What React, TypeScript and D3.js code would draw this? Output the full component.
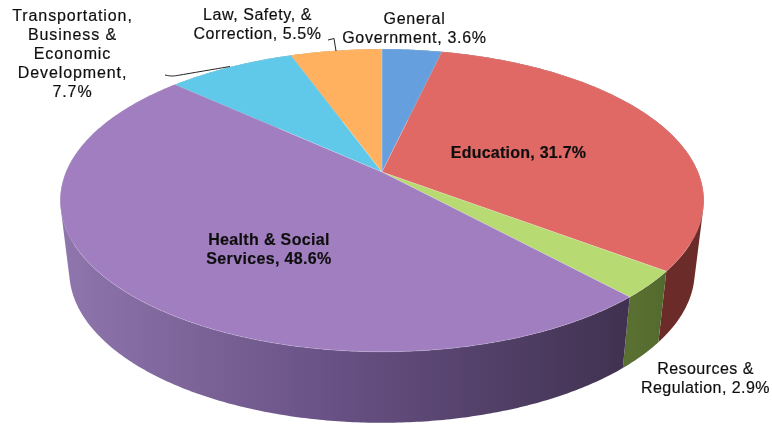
import React from "react";
import * as d3 from "d3";

const categories = ["General Government", "Education", "Resources & Regulation", "Health & Social Services", "Transportation, Business & Economic Development", "Law, Safety, & Correction"];
const shares = [3.6, 31.7, 2.9, 48.6, 7.7, 5.5];
const topColors = ["#659fde", "#e06865", "#b8da72", "#a07ec0", "#60c8e8", "#ffb15f"];
const sideStops = [
  ["#3f6a9c", "#3f6a9c"],
  ["#6f2d2b", "#6b2b29"],
  ["#5a7032", "#536a2e"],
  ["#8f76ad", "#403150"],
  ["#3a8aa5", "#3a8aa5"],
  ["#b07a3a", "#b07a3a"],
];
const labelLines = [
  ["General", "Government, 3.6%"],
  ["Education, 31.7%"],
  ["Resources &", "Regulation, 2.9%"],
  ["Health & Social", "Services, 48.6%"],
  ["Transportation,", "Business &", "Economic", "Development,", "7.7%"],
  ["Law, Safety, &", "Correction, 5.5%"],
];
const labelBold = [false, true, false, true, false, false];
const labelX = [414.5, 518.5, 705.5, 269, 72.5, 257.5];
const labelY = [24, 158, 374, 245, 20.5, 20];
const labelTrack = [0.7, 0.25, 0.45, 0.35, 0.9, 0.55];

const W = 772, H = 426;
const cx = 382, cy = 172, a = 316, b = 146, k = 0.188, depth = 71, shrink = 0.972;

type P = [number, number];
const project = (t: number): P => {
  const x = Math.sin(t), y = -Math.cos(t), w = 1 - k * y;
  return [cx + (a * x) / w, cy + (b * y) / w];
};
const lower = (p: P): P => [cx + (p[0] - cx) * shrink, p[1] + depth];
const line = d3.line();
const rim = (s: number, e: number) => {
  const n = Math.max(2, Math.ceil((e - s) / 0.01));
  return d3.range(n + 1).map((i) => project(s + ((e - s) * i) / n));
};
// Wall of one slice as consistently wound quads, so the folded silhouette stays filled.
const wall = (pts: P[]) =>
  d3.pairs(pts).map(([p, q]) => {
    const quad: P[] = [p, q, lower(q), lower(p)];
    return line(d3.polygonArea(quad) < 0 ? quad.reverse() : quad) + "Z";
  }).join("");

export default function App() {
  const arcs = d3.pie<number>().sort(null).startAngle(0).endAngle(2 * Math.PI)(shares);
  const xs = d3.scaleLinear().domain([60, 630]).range([0, 1]);
  return (
    <svg width={W} height={H} viewBox={`0 0 ${W} ${H}`} style={{ position: "fixed", left: 0, top: 0, background: "#fff" }}>
      <defs>
        <filter id="soft" x="-5%" y="-5%" width="110%" height="110%">
          <feGaussianBlur stdDeviation="0.35" />
        </filter>
        {arcs.map((d, i) => {
          const pts = rim(d.startAngle, d.endAngle).map((p) => p[0]);
          return (
            <linearGradient key={i} id={`side${i}`} gradientUnits="userSpaceOnUse" x1={d3.min(pts)} x2={d3.max(pts)} y1={0} y2={0}>
              <stop offset="0" stopColor={sideStops[i][0]} />
              {i === 3 && <stop offset={xs(340)} stopColor="#675083" />}
              <stop offset="1" stopColor={sideStops[i][1]} />
            </linearGradient>
          );
        })}
      </defs>
      {arcs.map((d, i) => (
        <path key={i} d={wall(rim(d.startAngle, d.endAngle))} fill={`url(#side${i})`} />
      ))}
      {arcs.map((d, i) => (
        <path key={i} d={line([[cx, cy], ...rim(d.startAngle, d.endAngle)]) + "Z"} fill={topColors[i]} stroke="#ffffff" strokeOpacity={0.25} strokeWidth={0.7} />
      ))}
      <path d={d3.line().curve(d3.curveBasis)([[165, 75], [172, 76.5], [180, 75], [230, 66.5]]) ?? ""} fill="none" stroke="#222" strokeWidth={1} />
      <path d={line([[328, 40], [334, 38.5], [336, 51]]) ?? ""} fill="none" stroke="#222" strokeWidth={1} />
      <g fontFamily="'Liberation Sans', Arial, sans-serif" fontSize={16} fill="#111" stroke="#111" strokeWidth={0.2} textAnchor="middle" filter="url(#soft)">
        {labelLines.map((ls, i) => (
          <text key={categories[i]} x={labelX[i]} y={labelY[i]} fontWeight={labelBold[i] ? 700 : 400} letterSpacing={labelTrack[i]}>
            {ls.map((t, j) => (
              <tspan key={j} x={labelX[i]} dy={j === 0 ? 0 : 19}>{t}</tspan>
            ))}
          </text>
        ))}
      </g>
    </svg>
  );
}
